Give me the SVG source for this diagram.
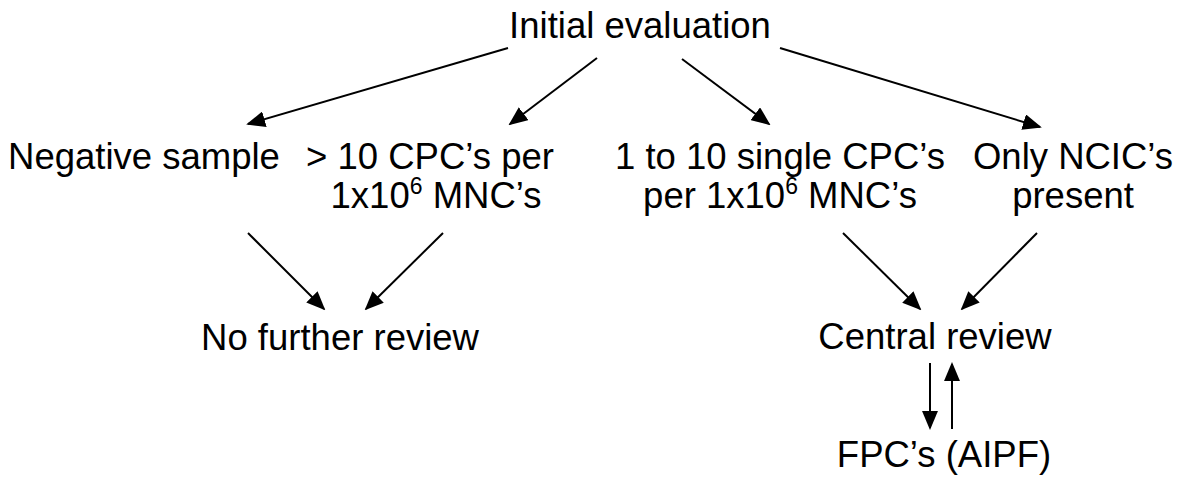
<svg xmlns="http://www.w3.org/2000/svg" width="1190" height="477" viewBox="0 0 1190 477">
<style>
text{font-family:"Liberation Sans",Arial,sans-serif;font-size:36.5px;fill:#000;text-anchor:middle}
.sup{font-size:23px}
line{stroke:#000;stroke-width:2}
</style>
<defs>
<marker id="ah" viewBox="0 0 10 10" refX="9" refY="5" markerWidth="19" markerHeight="16" markerUnits="userSpaceOnUse" orient="auto" preserveAspectRatio="none">
<path d="M0,0 L10,5 L0,10 Z" fill="#000"/>
</marker>
</defs>
<rect width="1190" height="477" fill="#fff"/>
<g id="n-initial"><text x="640" y="38">Initial evaluation</text></g>
<g id="n-negative"><text x="144" y="169">Negative sample</text></g>
<g id="n-gt10"><text x="430" y="169">&gt; 10 CPC’s per</text><text x="436" y="208">1x10<tspan class="sup" dy="-14">6</tspan><tspan dy="14"> MNC’s</tspan></text></g>
<g id="n-1to10"><text x="780" y="169">1 to 10 single CPC’s</text><text x="780" y="208">per 1x10<tspan class="sup" dy="-14">6</tspan><tspan dy="14"> MNC’s</tspan></text></g>
<g id="n-ncic"><text x="1073" y="169">Only NCIC’s</text><text x="1073" y="208">present</text></g>
<g id="n-nofurther"><text x="340" y="350">No further review</text></g>
<g id="n-central"><text x="935" y="349">Central review</text></g>
<g id="n-fpc"><text x="944" y="467">FPC’s (AIPF)</text></g>
<g id="connectors">
<line x1="508" y1="48" x2="248" y2="124" marker-end="url(#ah)"/>
<line x1="597" y1="58" x2="510" y2="124" marker-end="url(#ah)"/>
<line x1="682" y1="59" x2="769" y2="124" marker-end="url(#ah)"/>
<line x1="780" y1="48" x2="1040" y2="127" marker-end="url(#ah)"/>
<line x1="248" y1="233" x2="324" y2="309" marker-end="url(#ah)"/>
<line x1="443" y1="233" x2="366" y2="309" marker-end="url(#ah)"/>
<line x1="843" y1="233" x2="920" y2="309" marker-end="url(#ah)"/>
<line x1="1037" y1="233" x2="962" y2="309" marker-end="url(#ah)"/>
<line x1="930" y1="363" x2="930" y2="428" marker-end="url(#ah)"/>
<line x1="952" y1="429" x2="952" y2="364" marker-end="url(#ah)"/>
</g>
</svg>
